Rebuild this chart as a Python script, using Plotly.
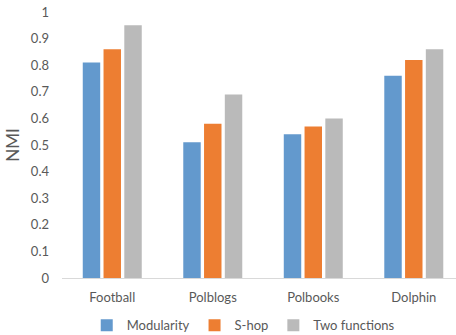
import plotly.graph_objects as go

categories = ["Football", "Polblogs", "Polbooks", "Dolphin"]
modularity = [0.81, 0.51, 0.54, 0.76]
s_hop = [0.86, 0.58, 0.57, 0.82]
two_functions = [0.95, 0.69, 0.60, 0.86]
y_ticks = [0, 0.1, 0.2, 0.3, 0.4, 0.5, 0.6, 0.7, 0.8, 0.9, 1]
y_tick_text = ["0", "0.1", "0.2", "0.3", "0.4", "0.5", "0.6", "0.7", "0.8", "0.9", "1"]

series = [
    ("Modularity", modularity, "#6399CD"),
    ("S-hop", s_hop, "#ED7E32"),
    ("Two functions", two_functions, "#BABABA"),
]

fig = go.Figure()
for name, vals, color in series:
    fig.add_trace(go.Bar(x=categories, y=vals, name=name,
                         marker=dict(color=color, line=dict(width=0))))

fig.update_layout(
    width=456, height=335,
    margin=dict(l=62, r=0, t=12, b=56.5, autoexpand=False),
    paper_bgcolor="white", plot_bgcolor="white",
    font=dict(family="Lato, sans-serif", color="#595959", size=13),
    barmode="group", bargap=0.38, bargroupgap=0.16,
    showlegend=True,
    legend=dict(orientation="h", xanchor="center", yanchor="middle",
                x=0.46, y=-0.178, font=dict(size=13, color="#595959"),
                itemwidth=30, traceorder="normal"),
    xaxis=dict(range=[-0.5, 3.42], showgrid=False, showline=True,
               linecolor="#D9D9D9", linewidth=1, ticks="",
               ticklabelstandoff=7,
               tickfont=dict(size=13, color="#595959"), fixedrange=True),
    yaxis=dict(range=[0, 1], tickvals=y_ticks, ticktext=y_tick_text,
               showgrid=False, showline=False, zeroline=False, ticks="",
               ticklabelstandoff=12,
               tickfont=dict(size=13, color="#595959"),
               title=dict(text="NMI", font=dict(size=17, color="#595959"), standoff=6)),
)

fig.write_html("out.html")
